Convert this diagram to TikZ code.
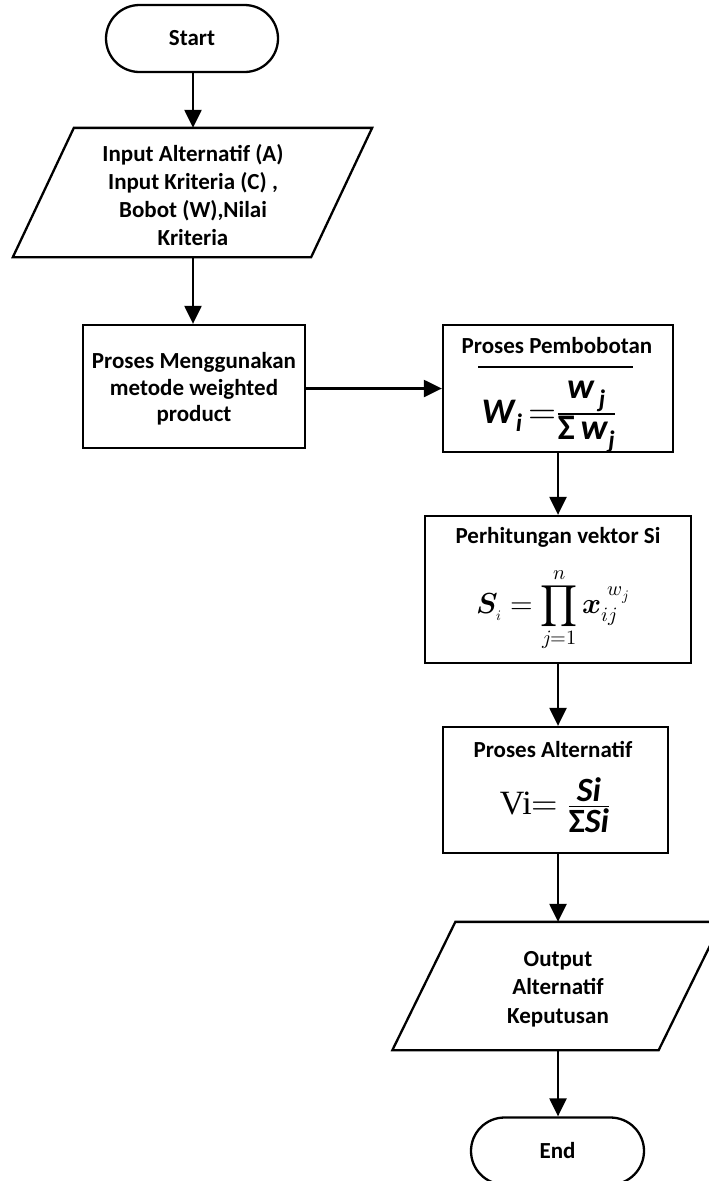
\documentclass[tikz,border=0pt]{standalone}
\usepackage{amsmath}
\usepackage{fontspec}
\usepackage{unicode-math}
\setmainfont{Carlito}
\setmathfont{Latin Modern Math}
\newfontfamily\viserif{Liberation Serif}
\usetikzlibrary{shapes.misc,arrows.meta}

% bold italic sans letters for the formulas
\newcommand{\bi}[1]{\textbf{\textit{#1}}}

\begin{document}
\begin{tikzpicture}[x=1pt,y=-1pt,line width=2.3pt,
  lbl/.style={font=\fontsize{23}{28}\selectfont\bfseries, align=center, inner sep=0pt},
  term/.style={draw, rounded rectangle, minimum width=#1, minimum height=67pt, inner sep=0pt},
  iobody/.style={rectangle, inner sep=0pt},
  procbox/.style={draw, rectangle, inner sep=0pt},
  arr/.style={-{Triangle[length=18pt,width=17pt]}}]
\useasboundingbox (0,0) rectangle (709,1181);

% left column
\node[term=172pt, lbl] (start) at (192,38.5) {Start};
\node[iobody, minimum width=296pt, minimum height=127pt] (input) at (192.5,192.5) {};
\draw ([xshift=-30.5pt]input.south west) -- ([xshift=30.5pt]input.north west)
   -- ([xshift=30.5pt]input.north east) -- ([xshift=-30.5pt]input.south east) -- cycle;
\node[lbl] (inputtxt) at (193,195) {Input Alternatif (A)\\Input Kriteria (C) ,\\Bobot (W),Nilai\\Kriteria};
\node[procbox, minimum width=222pt, minimum height=123pt] (proc) at (194,386.5) {};
\node[lbl, font=\fontsize{23}{26.5}\selectfont\bfseries] (proctxt) at (194,389) {Proses Menggunakan\\metode weighted\\product};

% right column
\node[procbox, minimum width=230pt, minimum height=127pt] (bobot) at (558,388.5) {};
\node[lbl] (bobottitle) at (557,346) {Proses Pembobotan};
\draw[line width=1.4pt] (478,367) -- (633,367);
\node[inner sep=0pt] (bobotformula) at (549,417)
  {\fontsize{36}{36}\selectfont$\bi{W}_{\bi{i}}\,{=}\frac{\textstyle\bi{w}_{\,\bi{j}}}{\textstyle\textbf{Σ}\,\bi{w}_{\bi{j}}}$};

\node[procbox, minimum width=266pt, minimum height=147pt] (vek) at (558,589.5) {};
\node[lbl] (vektitle) at (558,537) {Perhitungan vektor Si};
\node[inner sep=0pt] (vekformula) at (553,610)
  {\fontsize{29}{29}\selectfont$\symbfit{S}_{\scriptscriptstyle i} = \displaystyle\prod_{j=1}^{n} \symbfit{x}_{ij}^{\;w_j}$};

\node[procbox, minimum width=225pt, minimum height=126pt] (alt) at (555.5,790) {};
\node[lbl] (alttitle) at (553,749) {Proses Alternatif};
\node[inner sep=0pt] (altformula) at (555,805)
  {\fontsize{34}{34}\selectfont{\viserif Vi}$=\frac{\textstyle\bi{Si}}{\textstyle\textbf{Σ}\bi{Si}}$};

\node[iobody, minimum width=264pt, minimum height=126pt] (out) at (557,986) {};
\draw ([xshift=-31.5pt]out.south west) -- ([xshift=31.5pt]out.north west)
   -- ([xshift=31.5pt]out.north east) -- ([xshift=-31.5pt]out.south east) -- cycle;
\node[lbl, font=\fontsize{23}{28.5}\selectfont\bfseries] (outtxt) at (558,989) {Output\\Alternatif\\Keputusan};

\node[term=173pt, lbl] (end) at (557.5,1151) {End};

% connectors
\draw[arr] (start.south -| 193,0) -- (input.north -| 193,0);
\draw[arr] (input.south -| 193,0) -- (proc.north -| 193,0);
\draw[arr] (proc.east |- bobot.west) -- (bobot.west);
\draw[arr] (bobot.south) -- (vek.north);
\draw[arr] (vek.south) -- (vek.south |- alt.north);
\draw[arr] (alt.south -| vek.south) -- (out.north -| vek.south);
\draw[arr] (out.south -| vek.south) -- (end.north -| vek.south);
\end{tikzpicture}
\end{document}
